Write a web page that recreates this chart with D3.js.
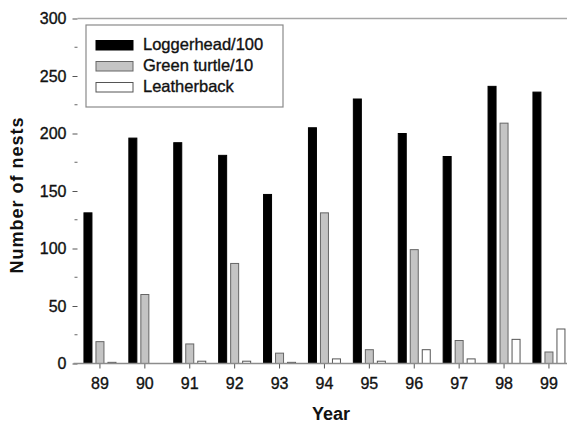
<!DOCTYPE html>
<html>
<head>
<meta charset="utf-8">
<script src="https://cdn.jsdelivr.net/npm/d3@7"></script>
<style>
  body { margin: 0; background: #fff; }
  svg { display: block; font-family: Arial, "Liberation Sans", sans-serif; }
  .heavy { stroke: #111; stroke-width: 0.35px; }
</style>
</head>
<body>
<div id="chart"></div>
<script>
// nest counts per season
const years = ["89", "90", "91", "92", "93", "94", "95", "96", "97", "98", "99"];
const series = ["Loggerhead/100", "Green turtle/10", "Leatherback"];
const loggerhead = [131, 196, 192, 181, 147, 205, 230, 200, 180, 241, 236];
const greenTurtle = [19, 60, 17, 87, 9, 131, 12, 99, 20, 209, 10];
const leatherback = [1, 0, 2, 2, 1, 4, 2, 12, 4, 21, 30];
const yTicks = [0, 50, 100, 150, 200, 250, 300];

const values = [loggerhead, greenTurtle, leatherback];
const fills = ["#000", "#c4c4c4", "#fff"];
const strokes = ["#000", "#666", "#555"];

const width = 567;
const height = 425;
const margin = {top: 18.5, left: 77.5, bottom: 61.5};

var svg = d3.select("#chart")
	.append("svg")
	.attr("width", width)
	.attr("height", height);

// the plot runs past the right edge of the picture
var x = d3.scaleBand()
	.domain(years)
	.range([margin.left, margin.left + years.length * 44.9]);

var y = d3.scaleLinear()
	.domain([0, 300])
	.range([height - margin.bottom, margin.top]);

var sub = d3.scaleBand()
	.domain(series)
	.range([-18, 18])
	.paddingInner(0.25)
	.paddingOuter(0.125);

// top frame line
svg.append("line")
	.attr("x1", margin.left).attr("x2", width)
	.attr("y1", y(300)).attr("y2", y(300))
	.attr("stroke", "#a6a6a6")
	.attr("stroke-width", 1.5);

// bars
series.forEach((s, i) => {
	svg.append("g")
		.selectAll("rect")
		.data(years)
		.enter()
		.append("rect")
		.attr("x", (d) => x(d) + x.bandwidth() / 2 + sub(s) + 0.5)
		.attr("y", (d, j) => y(values[i][j]))
		.attr("width", sub.bandwidth() - 1)
		.attr("height", (d, j) => y(0) - y(values[i][j]))
		.attr("fill", fills[i])
		.attr("stroke", strokes[i])
		.attr("stroke-width", 1);
});

// y axis: ticks only, no spine
var yAxis = svg.append("g")
	.attr("transform", `translate(${margin.left},0)`)
	.call(d3.axisLeft(y).tickValues(yTicks).tickSize(5).tickPadding(6));
yAxis.select(".domain").remove();
yAxis.selectAll("line").attr("stroke", "#555");
yAxis.selectAll("text")
	.attr("class", "heavy")
	.attr("font-size", 16)
	.attr("fill", "#111")
	.attr("font-family", null);

svg.append("g")
	.selectAll("line")
	.data(d3.range(25, 300, 50))
	.enter()
	.append("line")
	.attr("x1", margin.left - 3).attr("x2", margin.left)
	.attr("y1", (d) => y(d)).attr("y2", (d) => y(d))
	.attr("stroke", "#666");

// x axis
var xAxis = svg.append("g")
	.attr("transform", `translate(0,${y(0)})`)
	.call(d3.axisBottom(x).tickSize(5).tickPadding(9));
xAxis.select(".domain").remove();
xAxis.selectAll("line").attr("stroke", "#555");
xAxis.selectAll("text")
	.attr("class", "heavy")
	.attr("font-size", 16)
	.attr("fill", "#111")
	.attr("font-family", null);

svg.append("line")
	.attr("x1", margin.left - 4).attr("x2", width)
	.attr("y1", y(0)).attr("y2", y(0))
	.attr("stroke", "#8c8c8c")
	.attr("stroke-width", 1.5);

// axis titles
svg.append("text")
	.attr("x", 331)
	.attr("y", 420)
	.attr("text-anchor", "middle")
	.attr("font-size", 18)
	.attr("font-weight", "bold")
	.attr("fill", "#111")
	.text("Year");

svg.append("text")
	.attr("transform", "translate(23,195) rotate(-90)")
	.attr("text-anchor", "middle")
	.attr("font-size", 18)
	.attr("font-weight", "bold")
	.attr("letter-spacing", 1)
	.attr("fill", "#111")
	.text("Number of nests");

// legend
var legend = svg.append("g");
legend.append("rect")
	.attr("x", 86).attr("y", 25)
	.attr("width", 197).attr("height", 82)
	.attr("fill", "#fff")
	.attr("stroke", "#8a8a8a")
	.attr("stroke-width", 1.2);

var item = legend.selectAll("g.item")
	.data(series)
	.enter()
	.append("g")
	.attr("class", "item")
	.attr("transform", (d, i) => `translate(96,${40.5 + i * 21})`);

item.append("rect")
	.attr("width", 37)
	.attr("height", 9.5)
	.attr("fill", (d, i) => fills[i])
	.attr("stroke", (d, i) => strokes[i]);

item.append("text")
	.attr("class", "heavy")
	.attr("x", 47)
	.attr("y", 9.5)
	.attr("font-size", 16.5)
	.attr("fill", "#111")
	.text((d) => d);
</script>
</body>
</html>
